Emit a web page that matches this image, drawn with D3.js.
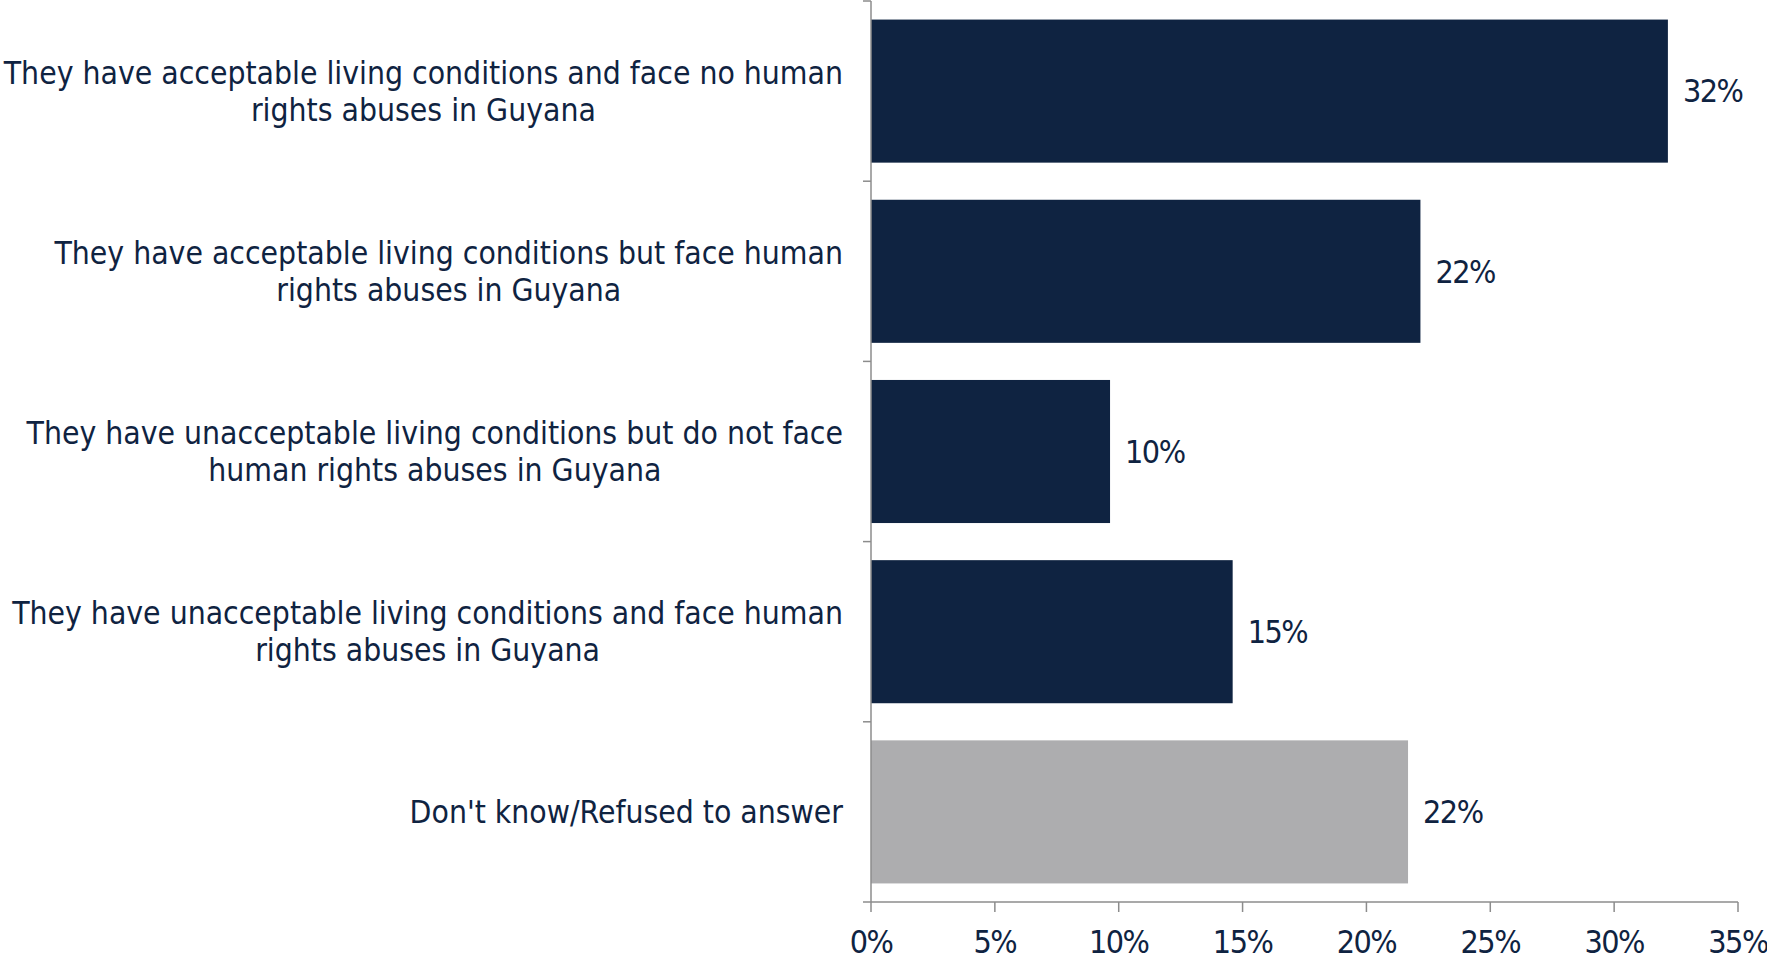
<!DOCTYPE html>
<html><head><meta charset="utf-8">
<script src="https://cdn.jsdelivr.net/npm/d3@7"></script>
<style>
body{margin:0;background:#fff;overflow:hidden;}
text{font-family:"DejaVu Sans Condensed",sans-serif;fill:#0F2341;}
</style>
</head><body>
<svg id="chart" width="1767" height="961"></svg>
<script>
// ---- data ----
const categories = [
  ["They have acceptable living conditions and face no human", "rights abuses in Guyana"],
  ["They have acceptable living conditions but face human", "rights abuses in Guyana"],
  ["They have unacceptable living conditions but do not face", "human rights abuses in Guyana"],
  ["They have unacceptable living conditions and face human", "rights abuses in Guyana"],
  ["Don't know/Refused to answer"]
];
const values = [32.17, 22.18, 9.65, 14.60, 21.68];
const valueLabels = ["32%", "22%", "10%", "15%", "22%"];
const barColors = ["#0F2341", "#0F2341", "#0F2341", "#0F2341", "#ADADAF"];
const xTicks = [0, 5, 10, 15, 20, 25, 30, 35];
const xTickLabels = ["0%", "5%", "10%", "15%", "20%", "25%", "30%", "35%"];

(function () {
// ---- layout ----
const svg = d3.select("#chart");
const pLeft = 871, pRight = 1738, pTop = 1, pBottom = 902;
const fontSize = 31.6;
const numSize = 32;
const axisColor = "#8C8C8C";

const x = d3.scaleLinear().domain([0, 35]).range([pLeft, pRight]);
const y = d3.scaleBand().domain(d3.range(categories.length)).range([pTop, pBottom])
  .paddingInner(0.206).paddingOuter(0.103);

// bars
svg.append("g").selectAll("rect").data(values).join("rect")
  .attr("x", x(0))
  .attr("y", (d, i) => y(i))
  .attr("width", d => x(d) - x(0))
  .attr("height", y.bandwidth())
  .attr("fill", (d, i) => barColors[i]);

// value labels
svg.append("g").selectAll("text").data(values).join("text")
  .attr("x", d => x(d) + 15)
  .attr("y", (d, i) => y(i) + y.bandwidth() / 2)
  .attr("dy", "0.35em")
  .attr("font-size", numSize)
  .attr("letter-spacing", -1.5)
  .text((d, i) => valueLabels[i]);

// y axis line and ticks at band boundaries
const boundaries = d3.range(categories.length + 1).map(i => pTop + i * (pBottom - pTop) / categories.length);
const ax = svg.append("g").attr("stroke", axisColor).attr("stroke-width", 1.5);
ax.append("line").attr("x1", pLeft).attr("x2", pLeft).attr("y1", pTop).attr("y2", pBottom);
ax.selectAll(".yt").data(boundaries).join("line").attr("class", "yt")
  .attr("x1", pLeft - 8).attr("x2", pLeft).attr("y1", d => d).attr("y2", d => d);

// x axis
ax.append("line").attr("x1", pLeft).attr("x2", pRight).attr("y1", pBottom).attr("y2", pBottom);
ax.selectAll(".xt").data(xTicks).join("line").attr("class", "xt")
  .attr("x1", d => x(d)).attr("x2", d => x(d)).attr("y1", pBottom).attr("y2", pBottom + 10);

svg.append("g").selectAll("text").data(xTicks).join("text")
  .attr("x", d => x(d))
  .attr("y", pBottom + 51)
  .attr("text-anchor", "middle")
  .attr("font-size", numSize)
  .attr("letter-spacing", -1.5)
  .text((d, i) => xTickLabels[i]);

// category labels: centred block, right edge aligned
const labelRight = 843;
const lineGap = 37;
categories.forEach((lines, i) => {
  const g = svg.append("g");
  const cy = y(i) + y.bandwidth() / 2;
  const texts = lines.map((ln, j) => g.append("text")
    .attr("font-size", fontSize)
    .attr("text-anchor", "middle")
    .attr("y", cy + (j - (lines.length - 1) / 2) * lineGap)
    .attr("dy", "0.35em")
    .text(ln));
  const maxW = d3.max(texts, t => t.node().getComputedTextLength());
  texts.forEach(t => t.attr("x", labelRight - maxW / 2));
});
})();
</script>
</body></html>
